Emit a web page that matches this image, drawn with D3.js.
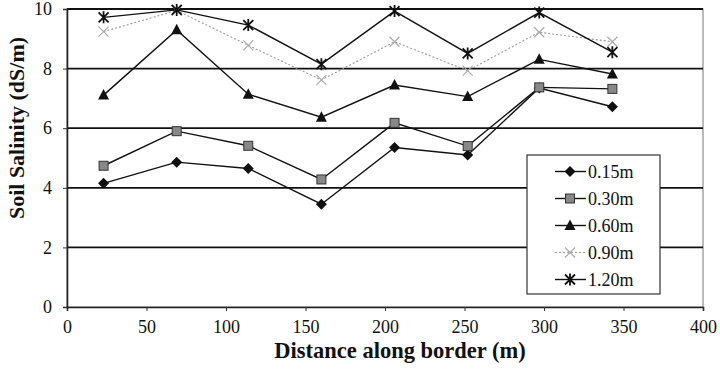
<!DOCTYPE html>
<html>
<head>
<meta charset="utf-8">
<script src="https://cdn.jsdelivr.net/npm/d3@7"></script>
<style>
  body { margin: 0; background: #fff; }
  svg { display: block; font-family: "Liberation Serif", "Times New Roman", serif; }
</style>
</head>
<body>
<div id="chart"></div>
<script>
// Distance along border (m)
const distances = [23, 69, 114, 160, 206, 252, 297, 343];

// Soil salinity (dS/m) per depth
const depthLabels = ['0.15m', '0.30m', '0.60m', '0.90m', '1.20m'];
const s015 = [4.15, 4.86, 4.65, 3.45, 5.35, 5.1, 7.35, 6.72];
const s030 = [4.74, 5.9, 5.41, 4.28, 6.18, 5.4, 7.37, 7.32];
const s060 = [7.11, 9.3, 7.14, 6.37, 7.45, 7.06, 8.31, 7.82];
const s090 = [9.24, 9.95, 8.78, 7.62, 8.9, 7.93, 9.22, 8.9];
const s120 = [9.72, 9.97, 9.46, 8.15, 9.93, 8.51, 9.88, 8.55];

const xTicks = [0, 50, 100, 150, 200, 250, 300, 350, 400];
const yTicks = [0, 2, 4, 6, 8, 10];

const series = [
    { name: depthLabels[0], values: s015, marker: 'diamond', dashed: false },
    { name: depthLabels[1], values: s030, marker: 'square', dashed: false },
    { name: depthLabels[2], values: s060, marker: 'triangle', dashed: false },
    { name: depthLabels[3], values: s090, marker: 'cross', dashed: true },
    { name: depthLabels[4], values: s120, marker: 'star', dashed: false }
];

const width = 720, height = 370;
const margin = { top: 9, right: 17, bottom: 63, left: 67 };
const innerW = width - margin.left - margin.right;
const innerH = height - margin.top - margin.bottom;

const svg = d3.select('#chart').append('svg')
    .attr('width', width)
    .attr('height', height);

const x = d3.scaleLinear().domain([0, 400]).range([margin.left, margin.left + innerW]);
const y = d3.scaleLinear().domain([0, 10]).range([margin.top + innerH, margin.top]);

// plot frame
svg.append('rect')
    .attr('x', margin.left).attr('y', margin.top)
    .attr('width', innerW).attr('height', innerH)
    .attr('fill', 'none')
    .attr('stroke', '#777')
    .attr('stroke-width', 1);

// horizontal gridlines
svg.append('g').selectAll('line')
    .data(yTicks.filter(d => d > 0))
    .enter().append('line')
    .attr('x1', margin.left).attr('x2', margin.left + innerW)
    .attr('y1', d => y(d)).attr('y2', d => y(d))
    .attr('stroke', '#111')
    .attr('stroke-width', 1.8);

// axes
const xAxis = svg.append('g')
    .attr('transform', `translate(0,${margin.top + innerH})`)
    .call(d3.axisBottom(x).tickValues(xTicks).tickSize(4).tickPadding(9));
const yAxis = svg.append('g')
    .attr('transform', `translate(${margin.left},0)`)
    .call(d3.axisLeft(y).tickValues(yTicks).tickSize(4).tickPadding(11));

[xAxis, yAxis].forEach(ax => {
    ax.select('.domain').attr('stroke', '#222').attr('stroke-width', 1.6);
    ax.selectAll('.tick line').attr('stroke', '#333');
    ax.selectAll('.tick text')
        .attr('font-size', 18)
        .attr('fill', '#111')
        .attr('font-family', '"Liberation Serif", serif');
});

// axis titles
svg.append('text')
    .attr('x', 400).attr('y', 358)
    .attr('text-anchor', 'middle')
    .attr('font-size', 22.5)
    .attr('font-weight', 'bold')
    .attr('fill', '#111')
    .text('Distance along border (m)');

svg.append('text')
    .attr('transform', 'translate(24,128) rotate(-90)')
    .attr('text-anchor', 'middle')
    .attr('font-size', 22)
    .attr('font-weight', 'bold')
    .attr('fill', '#111')
    .text('Soil Salinity (dS/m)');

// marker drawing helper
function drawMarker(g, type, cx, cy) {
    if (type === 'diamond') {
        g.append('path')
            .attr('d', `M${cx},${cy - 5.5}L${cx + 5.5},${cy}L${cx},${cy + 5.5}L${cx - 5.5},${cy}Z`)
            .attr('fill', '#111');
    } else if (type === 'square') {
        g.append('rect')
            .attr('x', cx - 4.5).attr('y', cy - 4.5)
            .attr('width', 9).attr('height', 9)
            .attr('fill', '#888').attr('stroke', '#333').attr('stroke-width', 1);
    } else if (type === 'triangle') {
        g.append('path')
            .attr('d', `M${cx},${cy - 6}L${cx + 5.5},${cy + 4.5}L${cx - 5.5},${cy + 4.5}Z`)
            .attr('fill', '#111');
    } else if (type === 'cross') {
        g.append('path')
            .attr('d', `M${cx - 5},${cy - 5}L${cx + 5},${cy + 5}M${cx - 5},${cy + 5}L${cx + 5},${cy - 5}`)
            .attr('stroke', '#aaa').attr('stroke-width', 1.2);
    } else if (type === 'star') {
        g.append('path')
            .attr('d', `M${cx - 5},${cy - 5}L${cx + 5},${cy + 5}M${cx - 5},${cy + 5}L${cx + 5},${cy - 5}M${cx},${cy - 6}L${cx},${cy + 6}`)
            .attr('stroke', '#111').attr('stroke-width', 1.8);
    }
}

const line = d3.line()
    .x((d, i) => x(distances[i]))
    .y(d => y(d));

series.forEach(s => {
    const g = svg.append('g');
    g.append('path')
        .datum(s.values)
        .attr('d', line)
        .attr('fill', 'none')
        .attr('stroke', s.dashed ? '#999' : '#111')
        .attr('stroke-width', s.dashed ? 1.1 : 1.4)
        .attr('stroke-dasharray', s.dashed ? '2,2' : null);
    s.values.forEach((v, i) => drawMarker(g, s.marker, x(distances[i]), y(v)));
});

// legend
const legend = svg.append('g');
legend.append('rect')
    .attr('x', 527).attr('y', 155)
    .attr('width', 133).attr('height', 139)
    .attr('fill', '#fff')
    .attr('stroke', '#333')
    .attr('stroke-width', 1.2);

series.forEach((s, i) => {
    const ly = 171.5 + i * 27;
    legend.append('line')
        .attr('x1', 555).attr('x2', 586)
        .attr('y1', ly).attr('y2', ly)
        .attr('stroke', s.dashed ? '#999' : '#111')
        .attr('stroke-width', s.dashed ? 1.1 : 1.4)
        .attr('stroke-dasharray', s.dashed ? '2,2' : null);
    drawMarker(legend, s.marker, 570, ly);
    legend.append('text')
        .attr('x', 588).attr('y', ly)
        .attr('dy', '0.35em')
        .attr('font-size', 18)
        .attr('fill', '#111')
        .text(s.name);
});
</script>
</body>
</html>
